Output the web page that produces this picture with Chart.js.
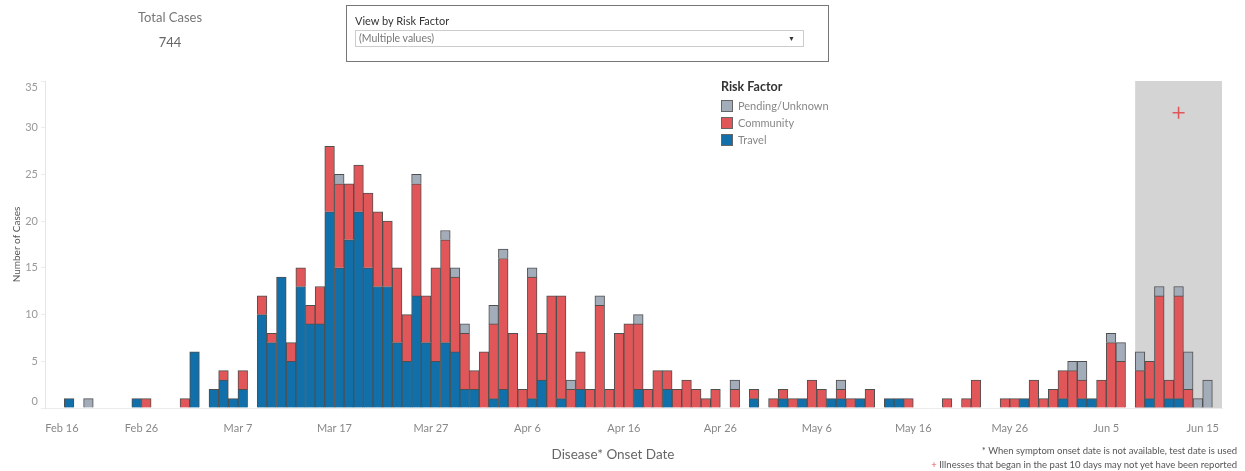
<!DOCTYPE html>
<html>
<head>
<meta charset="utf-8">
<script src="https://cdn.jsdelivr.net/npm/chart.js@4.4.1/dist/chart.umd.min.js"></script>
<style>
body{margin:0;background:#fff;font-family:Lato,"Open Sans",sans-serif;}
#wrap{position:relative;width:1245px;height:471px;overflow:hidden;}
canvas{position:absolute;left:0;top:0;}
.abs{position:absolute;white-space:nowrap;}
#total{left:110px;top:8px;width:120px;text-align:center;color:#777;font-size:13px;line-height:18px;}
#total .num{margin-top:7px;color:#666;}
#filter{left:346px;top:5px;width:481px;height:55px;border:1px solid #777;background:#fff;}
#filter .ttl{position:absolute;left:8px;top:8px;font-size:11px;color:#333;}
#filter .sel{position:absolute;left:8px;top:24px;width:444px;height:15px;border:1px solid #ccc;font-size:10.5px;color:#777;line-height:15px;padding-left:3px;}
#filter .arr{position:absolute;right:8px;top:0;font-size:7px;color:#333;}
#legend{left:721px;top:79px;}
#legend .head{font-size:12.5px;font-weight:bold;color:#333;margin-bottom:3px;}
#legend .row{font-size:11px;color:#888;height:17px;line-height:17px;}
#legend .sw{display:inline-block;width:10px;height:10px;border:1px solid #666;vertical-align:-2px;margin-right:5px;}
#xtitle{left:480px;top:446px;width:266px;text-align:center;font-size:13.5px;color:#666;}
#notes{right:8px;top:444px;text-align:right;font-size:9.5px;color:#555;line-height:14px;}
#notes .plus{color:#e15759;}
</style>
</head>
<body>
<div id="wrap">
  <canvas id="canvas-cases" width="1245" height="471"></canvas>
  <div id="total" class="abs">Total Cases<div class="num">744</div></div>
  <div id="filter" class="abs">
    <div class="ttl">View by Risk Factor</div>
    <div class="sel">(Multiple values)<span class="arr">&#9660;</span></div>
  </div>
  <div id="legend" class="abs"></div>
  <div id="xtitle" class="abs">Disease* Onset Date</div>
  <div id="notes" class="abs">* When symptom onset date is not available, test date is used<br><span class="plus">+</span> Illnesses that began in the past 10 days may not yet have been reported</div>
</div>
<script>
// un valor por dia, desde Feb 16 hasta Jun 16
const firstDay = [2020, 1, 16]
const dayCount = 122
const monthNames = ['Jan','Feb','Mar','Apr','May','Jun','Jul','Aug','Sep','Oct','Nov','Dec']

const travel = [
  0,0,1,0,0,0,0,0,0,1,
  0,0,0,0,0,6,0,2,3,1,
  2,0,10,7,14,5,13,9,9,21,
  15,18,21,15,13,13,7,5,12,7,
  5,7,6,2,2,0,1,2,0,0,
  1,3,0,1,0,2,0,0,0,0,
  0,2,0,0,2,0,0,0,0,0,
  0,0,0,1,0,0,1,0,1,0,
  0,1,1,0,1,0,0,1,1,0,
  0,0,0,0,0,0,0,0,0,0,
  0,1,0,0,0,1,0,1,1,0,
  0,0,0,0,1,0,1,1,0,0,
  0,0
]
const community = [
  0,0,0,0,0,0,0,0,0,0,
  1,0,0,0,1,0,0,0,1,0,
  2,0,2,1,0,2,2,2,4,7,
  9,6,5,8,8,7,8,5,12,5,
  10,11,8,6,2,6,8,14,8,2,
  13,5,12,11,2,4,2,11,2,8,
  9,7,2,4,2,2,3,2,1,2,
  0,2,0,1,0,1,1,1,0,3,
  2,0,1,1,0,2,0,0,0,1,
  0,0,0,1,0,1,3,0,0,1,
  1,0,3,1,2,3,4,2,0,3,
  7,5,0,4,4,12,2,11,2,0,
  0,0
]
const pending = [
  0,0,0,0,1,0,0,0,0,0,
  0,0,0,0,0,0,0,0,0,0,
  0,0,0,0,0,0,0,0,0,0,
  1,0,0,0,0,0,0,0,1,0,
  0,1,1,1,0,0,2,1,0,0,
  1,0,0,0,1,0,0,1,0,0,
  0,1,0,0,0,0,0,0,0,0,
  0,1,0,0,0,0,0,0,0,0,
  0,0,1,0,0,0,0,0,0,0,
  0,0,0,0,0,0,0,0,0,0,
  0,0,0,0,0,0,1,2,0,0,
  1,2,0,2,0,1,0,1,4,1,
  3,0
]

const yTicks = [0, 35, 5]
// ultimos dias sombreados (sin reportar todavia)
const shadeFrom = 'Jun 8'
const plusValue = 31.6

const series = [
  {label:'Travel', data:travel, color:'#1170aa'},
  {label:'Community', data:community, color:'#e15759'},
  {label:'Pending/Unknown', data:pending, color:'#a3acb9'}
]

const getDayLabels = () => {
  const labels = []
  for (let i = 0; i < dayCount; i++) {
    const d = new Date(firstDay[0], firstDay[1], firstDay[2] + i)
    labels.push(monthNames[d.getMonth()] + ' ' + d.getDate())
  }
  return labels
}

const renderLegend = () => {
  const el = document.getElementById('legend')
  let html = '<div class="head">Risk Factor</div>'
  series.slice().reverse().forEach(s => {
    html += `<div class="row"><span class="sw" style="background:${s.color}"></span>${s.label}</div>`
  })
  el.innerHTML = html
}

const shadePlugin = {
  id: 'shade',
  beforeDatasetsDraw(chart) {
    const {ctx, chartArea, scales: {x, y}} = chart
    const half = (x.getPixelForValue(1) - x.getPixelForValue(0)) / 2
    const x0 = x.getPixelForValue(x.getLabels().indexOf(shadeFrom)) - half
    const x1 = chartArea.right
    ctx.save()
    ctx.fillStyle = '#d4d4d4'
    ctx.fillRect(x0, chartArea.top, x1 - x0, chartArea.bottom - chartArea.top)
    // la cruz roja
    const cx = (x0 + x1) / 2
    const cy = y.getPixelForValue(plusValue)
    ctx.strokeStyle = '#e15759'
    ctx.lineWidth = 1.6
    ctx.beginPath()
    ctx.moveTo(cx - 6, cy); ctx.lineTo(cx + 6, cy)
    ctx.moveTo(cx, cy - 6); ctx.lineTo(cx, cy + 6)
    ctx.stroke()
    ctx.restore()
  }
}

const renderCasesChart = () => {
  const labels = getDayLabels()
  const data = {
    labels,
    datasets: series.map(s => ({
      label: s.label,
      data: s.data.map(v => v === 0 ? null : v),
      backgroundColor: s.color,
      borderColor: '#4f4f4f',
      borderWidth: 1,
      categoryPercentage: 1,
      barPercentage: 1
    }))
  }

  const options = {
    responsive: false,
    animation: false,
    maintainAspectRatio: false,
    layout: {padding: {left: 0, right: 23, top: 81, bottom: 0}},
    plugins: {legend: {display: false}, tooltip: {enabled: false}},
    scales: {
      x: {
        stacked: true,
        afterFit: s => { s.height = 63 },
        grid: {display: false},
        border: {display: true, color: '#ececec'},
        ticks: {
          autoSkip: false,
          maxRotation: 0,
          padding: 6,
          labelOffset: -4.8,
          color: '#888',
          font: {family: 'Lato', size: 11},
          // la primera etiqueta queda corrida hacia dentro
          callback: (val, i) => i % 10 !== 0 ? '' : (i === 0 ? '            ' + labels[i] : labels[i])
        }
      },
      y: {
        stacked: true,
        min: yTicks[0],
        max: yTicks[1],
        afterFit: s => { s.width = 45 },
        grid: {display: true, drawOnChartArea: false, drawTicks: true, tickLength: 4, color: '#ececec'},
        border: {display: true, color: '#e6e6e6'},
        ticks: {
          stepSize: yTicks[2], padding: 3, color: '#999', font: {family: 'Lato', size: 11},
          // extremos metidos hacia dentro, como en el original
          callback: v => v === yTicks[0] ? [String(v), ''] : (v === yTicks[1] ? ['', String(v)] : String(v))
        },
        title: {display: true, text: 'Number of Cases', color: '#555', font: {family: 'Lato', size: 10}, padding: {top: 11, bottom: 0}}
      }
    }
  }

  new Chart('canvas-cases', {type: 'bar', data, options, plugins: [shadePlugin]})
}

renderLegend()
renderCasesChart()
</script>
</body>
</html>
